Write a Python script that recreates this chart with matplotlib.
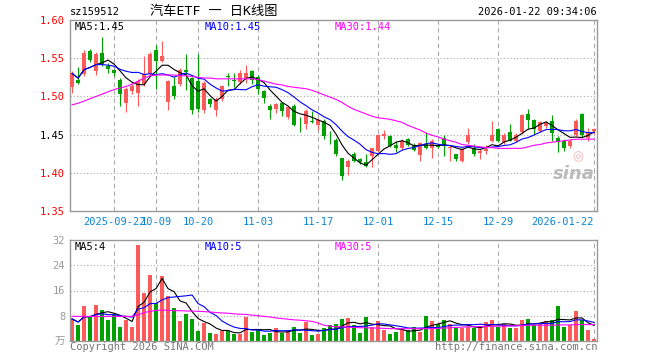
import matplotlib.pyplot as plt
import numpy as np
import pandas as pd

plt.rcParams['font.family'] = ['DejaVu Sans Mono', 'Noto Sans CJK SC']

# trading days shown (weekdays minus exchange holidays)
holidays = pd.to_datetime(['2025-10-01', '2025-10-02', '2025-10-03', '2025-10-06',
                           '2025-10-07', '2025-10-08', '2026-01-01', '2026-01-02'])
days = pd.bdate_range('2025-09-11', '2026-01-22')
days = days[~days.isin(holidays)]

open_ = [1.512, 1.521, 1.529, 1.559, 1.533, 1.557, 1.540, 1.534, 1.522, 1.492,
         1.507, 1.505, 1.516, 1.529, 1.561, 1.546, 1.493, 1.514, 1.516, 1.534,
         1.524, 1.520, 1.482, 1.496, 1.482, 1.496, 1.527, 1.522, 1.519, 1.524,
         1.533, 1.525, 1.507, 1.488, 1.483, 1.491, 1.473, 1.488, 1.467, 1.464,
         1.468, 1.462, 1.468, 1.446, 1.443, 1.419, 1.408, 1.424, 1.418, 1.414,
         1.422, 1.428, 1.448, 1.448, 1.436, 1.433, 1.444, 1.436, 1.423, 1.438,
         1.433, 1.437, 1.445, 1.432, 1.424, 1.416, 1.440, 1.433, 1.426, 1.429,
         1.442, 1.457, 1.440, 1.454, 1.442, 1.453, 1.477, 1.469, 1.455, 1.461,
         1.468, 1.446, 1.442, 1.435, 1.450, 1.477, 1.446, 1.455]
high = [1.533, 1.538, 1.561, 1.562, 1.558, 1.578, 1.544, 1.536, 1.524, 1.512,
        1.517, 1.523, 1.553, 1.558, 1.567, 1.573, 1.522, 1.525, 1.537, 1.556,
        1.526, 1.556, 1.520, 1.498, 1.499, 1.515, 1.531, 1.531, 1.534, 1.541,
        1.535, 1.528, 1.509, 1.490, 1.492, 1.493, 1.488, 1.490, 1.473, 1.483,
        1.481, 1.472, 1.470, 1.455, 1.445, 1.420, 1.418, 1.427, 1.419, 1.424,
        1.433, 1.451, 1.456, 1.450, 1.442, 1.444, 1.446, 1.439, 1.440, 1.453,
        1.444, 1.438, 1.450, 1.435, 1.425, 1.433, 1.458, 1.438, 1.431, 1.436,
        1.468, 1.458, 1.452, 1.464, 1.452, 1.477, 1.483, 1.471, 1.468, 1.468,
        1.476, 1.448, 1.444, 1.444, 1.470, 1.478, 1.458, 1.459]
low = [1.505, 1.516, 1.527, 1.545, 1.528, 1.540, 1.530, 1.527, 1.488, 1.480,
       1.503, 1.487, 1.514, 1.527, 1.510, 1.545, 1.482, 1.497, 1.514, 1.509,
       1.477, 1.479, 1.478, 1.486, 1.474, 1.494, 1.513, 1.512, 1.516, 1.517,
       1.516, 1.503, 1.492, 1.470, 1.478, 1.475, 1.471, 1.461, 1.453, 1.457,
       1.465, 1.456, 1.444, 1.438, 1.422, 1.391, 1.397, 1.414, 1.412, 1.407,
       1.407, 1.427, 1.444, 1.434, 1.427, 1.430, 1.435, 1.428, 1.415, 1.431,
       1.420, 1.433, 1.422, 1.416, 1.415, 1.414, 1.438, 1.422, 1.418, 1.424,
       1.440, 1.440, 1.438, 1.441, 1.440, 1.451, 1.457, 1.451, 1.453, 1.459,
       1.441, 1.427, 1.429, 1.433, 1.448, 1.447, 1.441, 1.451]
close = [1.530, 1.518, 1.557, 1.547, 1.556, 1.542, 1.536, 1.530, 1.503, 1.510,
         1.514, 1.520, 1.529, 1.556, 1.546, 1.553, 1.520, 1.501, 1.535, 1.532,
         1.482, 1.484, 1.517, 1.490, 1.496, 1.513, 1.525, 1.520, 1.530, 1.530,
         1.522, 1.510, 1.498, 1.482, 1.490, 1.481, 1.486, 1.463, 1.466, 1.481,
         1.467, 1.469, 1.448, 1.445, 1.424, 1.396, 1.415, 1.416, 1.414, 1.409,
         1.432, 1.450, 1.451, 1.435, 1.432, 1.442, 1.437, 1.430, 1.439, 1.433,
         1.442, 1.434, 1.435, 1.434, 1.418, 1.431, 1.450, 1.424, 1.429, 1.431,
         1.450, 1.442, 1.449, 1.442, 1.450, 1.475, 1.469, 1.457, 1.466, 1.466,
         1.452, 1.440, 1.433, 1.441, 1.468, 1.449, 1.453, 1.457]
# 30-day average (needs history before the window)
ma30 = [1.489, 1.491, 1.494, 1.497, 1.500, 1.503, 1.506, 1.509, 1.511, 1.513,
        1.516, 1.520, 1.524, 1.527, 1.528, 1.528, 1.528, 1.528, 1.527, 1.527,
        1.526, 1.525, 1.524, 1.524, 1.523, 1.523, 1.523, 1.523, 1.523, 1.523,
        1.523, 1.522, 1.520, 1.518, 1.516, 1.515, 1.513, 1.512, 1.511, 1.510,
        1.508, 1.505, 1.502, 1.499, 1.496, 1.492, 1.487, 1.483, 1.480, 1.477,
        1.474, 1.472, 1.471, 1.470, 1.468, 1.466, 1.462, 1.459, 1.456, 1.452,
        1.449, 1.447, 1.444, 1.442, 1.440, 1.437, 1.436, 1.435, 1.434, 1.433,
        1.433, 1.432, 1.432, 1.432, 1.432, 1.432, 1.434, 1.436, 1.437, 1.439,
        1.440, 1.441, 1.442, 1.443, 1.444, 1.444, 1.444, 1.444]
volume = [7.0, 5.0, 11.0, 7.8, 11.3, 9.7, 6.6, 8.6, 4.5, 6.7,
          4.5, 30.4, 15.3, 20.9, 11.9, 20.6, 14.2, 10.5, 6.3, 8.6,
          7.0, 3.2, 5.7, 2.5, 2.1, 3.2, 3.2, 2.3, 2.1, 7.6,
          2.9, 3.4, 1.8, 2.5, 4.1, 2.5, 3.5, 4.5, 2.5, 6.0,
          1.8, 2.1, 4.1, 5.0, 5.5, 6.9, 7.2, 5.0, 2.5, 7.5,
          4.5, 6.4, 3.4, 2.1, 2.9, 3.6, 3.4, 4.3, 2.9, 7.8,
          6.4, 5.5, 6.8, 5.5, 4.1, 4.1, 4.5, 4.1, 4.5, 6.0,
          6.8, 4.5, 5.5, 4.1, 4.1, 6.6, 7.1, 5.0, 5.5, 6.3,
          6.6, 11.0, 4.5, 5.0, 9.4, 6.6, 3.4, 0.5]
vol_ma30 = [7.8, 7.8, 7.8, 7.8, 7.8, 7.8, 7.8, 7.8, 7.8, 7.8,
            7.8, 8.3, 9.0, 9.4, 9.7, 9.8, 9.7, 9.6, 9.6, 9.5,
            9.5, 9.4, 9.3, 9.2, 9.0, 8.9, 8.8, 8.6, 8.5, 8.4,
            8.2, 8.0, 7.8, 7.6, 7.3, 7.1, 6.9, 6.7, 6.6, 6.4,
            6.2, 5.7, 5.0, 4.7, 4.5, 4.5, 4.4, 4.3, 4.2, 4.2,
            4.1, 4.1, 4.0, 3.9, 3.9, 3.9, 3.9, 3.9, 3.9, 3.9,
            3.9, 4.0, 4.1, 4.2, 4.3, 4.4, 4.5, 4.5, 4.6, 4.6,
            4.7, 4.7, 4.7, 4.8, 4.8, 4.9, 5.0, 5.0, 5.0, 5.0,
            5.0, 5.1, 5.1, 5.1, 5.2, 5.2, 5.2, 5.2]
tick_dates = ['2025-09-22', '2025-10-09', '2025-10-20', '2025-11-03', '2025-11-17',
              '2025-12-01', '2025-12-15', '2025-12-29', '2026-01-22']
price_ticks = [1.35, 1.40, 1.45, 1.50, 1.55, 1.60]
price_tick_colors = ['red', 'red', 'black', 'red', 'red', 'red']
vol_ticks = [8, 16, 24, 32]

RED = '#ff5a5a'
GREEN = '#00a000'
GRID = '#aaaaaa'

W, H = 660, 360


def px(x, y):
    return x / W, 1 - y / H


o = np.array(open_)
c = np.array(close)
x = np.arange(len(days))
cols = np.where(c >= o, RED, GREEN)
ma5 = pd.Series(c).rolling(5, min_periods=1).mean()
ma10 = pd.Series(c).rolling(10, min_periods=1).mean()
vma5 = pd.Series(volume).rolling(5, min_periods=1).mean()
vma10 = pd.Series(volume).rolling(10, min_periods=1).mean()
tick_idx = [int(np.where(days == pd.Timestamp(d))[0][0]) for d in tick_dates]
tick_lbl = [d if i in (0, len(tick_dates) - 1) else d[5:] for i, d in enumerate(tick_dates)]

fig = plt.figure(figsize=(6.6, 3.6), dpi=100)
ax = fig.add_axes([70 / W, 1 - 211 / H, 527 / W, 191 / H])
axv = fig.add_axes([70 / W, 1 - 341 / H, 527 / W, 101 / H])

for a in (ax, axv):
    a.set_xlim(-0.35, len(days) - 0.5)
    for s in a.spines.values():
        s.set_color('#999999')
        s.set_linewidth(1)
    for t in tick_idx:
        a.axvline(t, color=GRID, lw=0.8, ls=(0, (4, 3)), zorder=0)
    a.tick_params(length=0)

# price panel
for p in price_ticks[1:-1]:
    ax.axhline(p, color=GRID, lw=0.8, ls=(0, (1, 2)), zorder=0)
ax.vlines(x, low, high, colors=cols, lw=0.8, zorder=2)
ax.bar(x, np.maximum(np.abs(c - o), 0.0008), bottom=np.minimum(o, c),
       width=0.72, color=cols, lw=0, zorder=3)
ax.plot(x, ma5, color='black', lw=0.8, zorder=4)
ax.plot(x, ma10, color='blue', lw=0.8, zorder=4)
ax.plot(x, ma30, color='magenta', lw=0.8, zorder=4)
ax.set_ylim(1.35, 1.60)
ax.set_yticks(price_ticks)
ax.set_yticklabels([f'{p:.2f}' for p in price_ticks], fontsize=7.5)
for lbl, col in zip(ax.get_yticklabels(), price_tick_colors):
    lbl.set_color(col)
ax.set_xticks(tick_idx)
ax.set_xticklabels(tick_lbl, fontsize=7.5, color='#0a86d8')
ax.tick_params(axis='x', pad=4)
ax.get_xticklabels()[-1].set_ha('right')
ax.get_xticklabels()[-1].set_x(tick_idx[-1] + 0.3)

# volume panel
for v in vol_ticks[:-1]:
    axv.axhline(v, color=GRID, lw=0.8, ls=(0, (1, 2)), zorder=0)
axv.bar(x, volume, width=0.78, color=cols, lw=0, zorder=2)
axv.plot(x, vma5, color='black', lw=0.8, zorder=3)
axv.plot(x, vma10, color='blue', lw=0.8, zorder=3)
axv.plot(x, vol_ma30, color='magenta', lw=0.8, zorder=3)
axv.set_ylim(0, 32)
axv.set_yticks([0] + vol_ticks)
axv.set_yticklabels(['万'] + [str(v) for v in vol_ticks], fontsize=7.5, color='#999999')
axv.set_xticks([])

# texts
fig.text(*px(70, 12), 'sz159512', fontsize=7.5, va='center')
fig.text(*px(150, 12), '汽车ETF 一 日K线图', fontsize=9.5, va='center')
fig.text(*px(597, 12), '2026-01-22 09:34:06', fontsize=7.5, va='center', ha='right')
fig.text(*px(75, 27), 'MA5:1.45', fontsize=7.5, va='center', color='black')
fig.text(*px(205, 27), 'MA10:1.45', fontsize=7.5, va='center', color='blue')
fig.text(*px(335, 27), 'MA30:1.44', fontsize=7.5, va='center', color='magenta')
fig.text(*px(75, 247), 'MA5:4', fontsize=7.5, va='center', color='black')
fig.text(*px(205, 247), 'MA10:5', fontsize=7.5, va='center', color='blue')
fig.text(*px(335, 247), 'MA30:5', fontsize=7.5, va='center', color='magenta')
fig.text(*px(70, 347), 'Copyright 2026 SINA.COM', fontsize=7.5, va='center', color='#777777')
fig.text(*px(597, 347), 'http://finance.sina.com.cn', fontsize=7.5, va='center',
         ha='right', color='#777777')
fig.text(*px(574, 174), 'sina', fontsize=13, va='center', ha='center', color='#bbbbbb',
         style='italic', weight='bold', family='DejaVu Sans')
fig.text(*px(578, 157), '◎', fontsize=9, va='center', ha='center', color='#f2b0b0',
         family='DejaVu Sans')

fig.savefig('out.png', dpi=100)
